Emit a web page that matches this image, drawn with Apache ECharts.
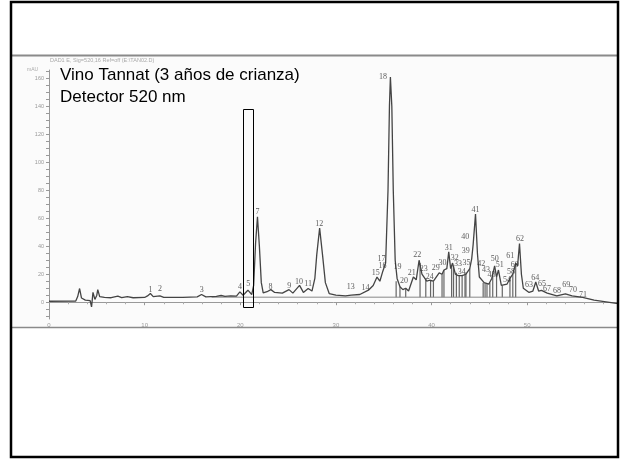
<!DOCTYPE html>
<html>
<head>
<meta charset="utf-8">
<script src="https://cdn.jsdelivr.net/npm/echarts@6/dist/echarts.min.js"></script>
<style>
html,body{margin:0;padding:0;background:#fff;}
#c{width:621px;height:459px;}
</style>
</head>
<body>
<div id="c"></div>
<script>
// Chromatogram signal (retention time, min / absorbance, mAU)
var times = [0.0,2.8,3.0,3.2,3.4,3.8,4.3,4.45,4.6,4.8,5.0,5.1,5.3,5.8,6.5,7.2,7.6,8.2,8.8,10.0,10.3,10.6,10.9,11.6,12.0,14.0,15.5,15.95,16.4,17.5,18.0,18.4,19.0,19.6,19.96,20.3,20.8,21.2,21.4,21.6,21.8,22.0,22.2,22.4,22.8,23.2,23.6,24.4,25.1,25.5,26.2,26.6,27.1,27.5,27.8,28.0,28.3,28.6,28.9,29.3,30.0,31.0,31.6,32.5,33.4,33.9,34.3,34.6,34.9,35.2,35.45,35.6,35.7,35.85,36.0,36.2,36.4,36.7,37.0,37.3,37.6,38.1,38.4,38.7,39.0,39.2,39.5,39.8,40.2,40.8,41.1,41.3,41.6,41.8,42.0,42.2,42.5,42.8,43.2,43.6,44.0,44.2,44.35,44.6,44.8,45.0,45.2,45.5,46.0,46.3,46.6,46.8,47.0,47.3,47.9,48.2,48.5,48.8,49.0,49.2,49.4,49.6,50.2,50.6,50.9,51.2,51.5,52.1,53.1,54.0,54.7,55.8,57.0,59.5];
var signal = [0.7,0.8,4,9.8,3,1.5,1.2,-3.3,7,2,5,9,4,3.5,3.2,4.3,3.3,4.0,3.2,3.4,4.5,6.2,4,4.5,3.4,3.4,3.8,5.5,3.8,4.2,4.8,4.2,4.6,4.4,7.4,5.0,8.6,5.5,12,42,61,40,14,6.6,7.5,9,7,6.5,9,6.5,12,7,9.8,8,17,34,53,34,14,6.2,5,4.5,5,5.5,8.6,12,18,15,22,28,80,140,161,140,80,30,17,11,9,10,8,18,16,30,20,21,15,15.7,15,21,20,23,24,36,24,28,20,19,19,20,24,31,41,63,35,18,18,14,13,17,26,18,23,12,13,17,20,28,26,42,20,10,7,8,14.5,8,8.5,6.5,4.5,6,4.5,3.5,1.5,-1];

// Integration baseline and drop lines
var baselineLevel = 3.6;
var baselineStart = 17, baselineEnd = 56;
var dropTimes = [36.3,36.7,37.3,38.8,39.4,39.9,40.2,41.1,41.3,42.1,42.3,42.6,42.9,43.2,43.5,43.6,44.0,45.4,45.6,45.8,46.1,46.4,46.8,47.4,48.2,48.5,48.8];
var dropTops  = [15,11,10,28,17,15.5,15,20,23,26,26,21,19,19,20,21,24,14,13.5,13,14,20,18,12,17,20,28];

// Peak number labels (position of label)
var peakNames = ['1','2','3','4','5','7','8','9','10','11','12','13','14','15','16','17','18','19','20','21','22','23','24','29','30','31','32','33','34','35','39','40','41','42','43','48','50','51','54','58','60','61','62','63','64','65','67','68','69','70','71'];
var peakT = [10.62,11.6,15.96,19.96,20.83,21.81,23.17,25.11,26.15,27.1,28.27,31.56,33.09,34.17,34.87,34.76,34.93,36.44,37.13,37.93,38.5,39.18,39.81,40.44,41.14,41.8,42.42,42.77,43.16,43.65,43.57,43.54,44.59,45.2,45.7,46.26,46.6,47.13,47.9,48.3,48.7,48.24,49.25,50.19,50.85,51.55,52.07,53.11,54.1,54.79,55.83];
var peakV = [8.6,9.8,8.6,10.9,12.9,64.3,10.9,11.9,14.5,12.9,56,10.9,10.5,21.2,25.7,30.7,161,25,15.2,21.2,33.8,24,18,24.5,28,39,31.6,27.6,21.6,28,37,46.6,66,27.6,22.9,19.3,30.7,27,16.2,21.4,26.4,32.9,45.2,12.1,17.4,13.4,9.3,7.9,12.6,9.1,5.5];

var yTickLabels = [0,20,40,60,80,100,120,140,160];
var yMinorTicks = [-10,-5,0,5,10,15,20,25,30,35,40,45,50,55,60,65,70,75,80,85,90,95,100,105,110,115,120,125,130,135,140,145,150,155,160,165];
var xTickLabels = [0,10,20,30,40,50];

var chart = echarts.init(document.getElementById('c'), null, {renderer:'canvas'});

var sigData = times.map(function(t,i){return [t, signal[i]];});
var dropData = dropTimes.map(function(t,i){return [t, dropTops[i]];});
var lblData = peakT.map(function(t,i){return {value:[t, peakV[i]], name:peakNames[i]};});

chart.setOption({
  animation:false,
  backgroundColor:'#ffffff',
  graphic:[
    {type:'rect', z:-10, shape:{x:12,y:55,width:606,height:272}, style:{fill:'#fbfbfb'}},
    {type:'line', z:50, shape:{x1:12,y1:55.5,x2:618,y2:55.5}, style:{stroke:'#8a8a8a',lineWidth:2}},
    {type:'rect', z:60, shape:{x:12,y:327,width:606,height:129}, style:{fill:'#ffffff'}},
    {type:'line', z:61, shape:{x1:12,y1:327.5,x2:618,y2:327.5}, style:{stroke:'#8a8a8a',lineWidth:1.5}},
    {type:'rect', z:70, shape:{x:11,y:2,width:607,height:455}, style:{fill:null,stroke:'#000',lineWidth:2.5}},
    {type:'text', z:40, left:50, top:57, style:{text:'DAD1 E, Sig=520,16 Ref=off (E:\\TAN02.D)', fontSize:5.5, fill:'#aaa', fontFamily:'Liberation Sans'}},
    {type:'text', z:40, left:27, top:67, style:{text:'mAU', fontSize:5, fill:'#aaa', fontFamily:'Liberation Sans'}},
    {type:'text', z:40, left:60, top:67, style:{text:'Vino Tannat (3 años de crianza)', fontSize:17, fill:'#000', fontFamily:'Liberation Sans'}},
    {type:'text', z:40, left:60, top:89, style:{text:'Detector 520 nm', fontSize:17, fill:'#000', fontFamily:'Liberation Sans'}},
    {type:'rect', z:40, shape:{x:243.5,y:109.5,width:10,height:198}, style:{fill:null,stroke:'#000',lineWidth:1}}
  ],
  grid:{left:49, top:70, width:569, height:249, containLabel:false},
  xAxis:{
    type:'value', min:0, max:59.5, interval:10,
    axisLine:{show:true, lineStyle:{color:'#999', width:1}},
    axisTick:{show:true, length:3, lineStyle:{color:'#999'}},
    minorTick:{show:true, splitNumber:5, length:2, lineStyle:{color:'#aaa'}},
    axisLabel:{fontSize:6, color:'#999', margin:3, customValues:xTickLabels},
    splitLine:{show:false}
  },
  yAxis:{
    type:'value', min:-12, max:166,
    axisLine:{show:true, lineStyle:{color:'#999', width:1}},
    axisTick:{show:true, length:3, lineStyle:{color:'#999'}, customValues:yMinorTicks},
    axisLabel:{fontSize:5.5, color:'#999', margin:5, customValues:yTickLabels},
    splitLine:{show:false}
  },
  series:[
    {type:'line', name:'baseline', data:[[baselineStart, baselineLevel],[baselineEnd, baselineLevel]], symbol:'none', lineStyle:{color:'#888', width:1}, z:2, silent:true},
    {type:'custom', name:'drops', data:dropData, z:2, silent:true,
      renderItem:function(params, api){
        var p1 = api.coord([api.value(0), baselineLevel]);
        var p2 = api.coord([api.value(0), api.value(1)]);
        return {type:'line', shape:{x1:p1[0],y1:p1[1],x2:p2[0],y2:p2[1]}, style:{stroke:'#666', lineWidth:1.2}};
      }},
    {type:'line', name:'signal', data:sigData, symbol:'none', lineStyle:{color:'#444', width:1.3}, z:3, silent:true},
    {type:'scatter', name:'labels', data:lblData, symbolSize:0, z:4, silent:true,
      label:{show:true, position:'inside', formatter:function(p){return p.name;}, fontSize:8, color:'#333', fontFamily:'Liberation Serif'}}
  ]
});
</script>
</body>
</html>
